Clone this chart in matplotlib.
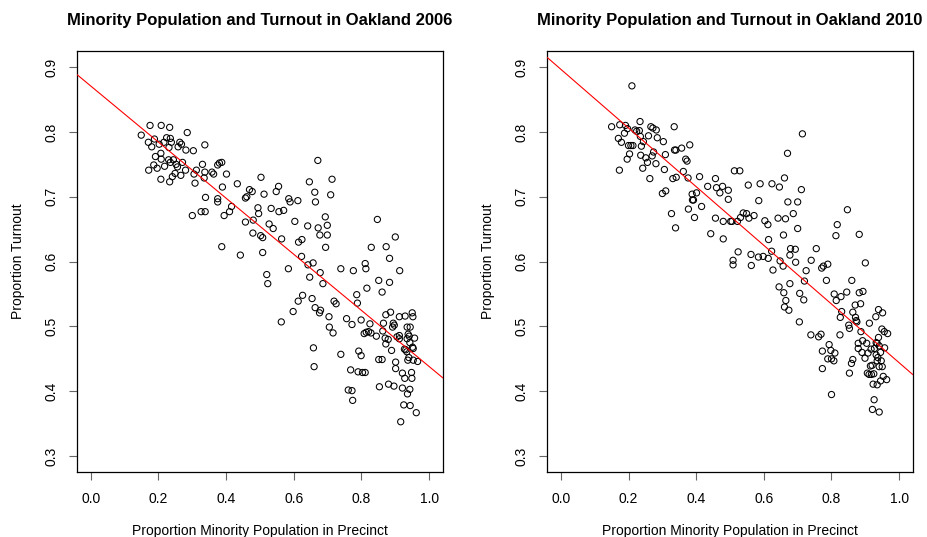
import numpy as np
import matplotlib
matplotlib.use("Agg")
import matplotlib.pyplot as plt

plt.rcParams['font.family'] = ['Liberation Sans', 'DejaVu Sans']

# Precinct-level data: share of minority population vs. turnout
minority_2006 = [
    0.149, 0.175, 0.208, 0.233, 0.285, 0.170, 0.180, 0.188, 0.202, 0.216,
    0.224, 0.235, 0.231, 0.238, 0.263, 0.268, 0.258, 0.281, 0.303, 0.337,
    0.191, 0.207, 0.186, 0.171, 0.196, 0.208, 0.218, 0.207, 0.230, 0.235,
    0.244, 0.252, 0.256, 0.271, 0.233, 0.241, 0.249, 0.266, 0.280, 0.305,
    0.312, 0.330, 0.335, 0.337, 0.308, 0.358, 0.363, 0.375, 0.380, 0.387,
    0.401, 0.339, 0.300, 0.326, 0.338, 0.375, 0.375, 0.389, 0.394, 0.410,
    0.416, 0.433, 0.387, 0.442, 0.457, 0.461, 0.469, 0.477, 0.457, 0.480,
    0.494, 0.496, 0.479, 0.502, 0.508, 0.503, 0.512, 0.508, 0.520, 0.523,
    0.527, 0.533, 0.539, 0.548, 0.555, 0.556, 0.570, 0.564, 0.585, 0.589,
    0.612, 0.603, 0.584, 0.563, 0.598, 0.613, 0.626, 0.614, 0.624, 0.623,
    0.641, 0.646, 0.662, 0.664, 0.671, 0.642, 0.657, 0.647, 0.654, 0.663,
    0.676, 0.679, 0.672, 0.677, 0.693, 0.699, 0.699, 0.694, 0.678, 0.686,
    0.709, 0.713, 0.658, 0.660, 0.704, 0.705, 0.716, 0.719, 0.725, 0.739,
    0.739, 0.756, 0.772, 0.776, 0.786, 0.788, 0.768, 0.761, 0.772, 0.774,
    0.790, 0.803, 0.811, 0.792, 0.799, 0.799, 0.811, 0.813, 0.816, 0.808,
    0.814, 0.821, 0.825, 0.828, 0.829, 0.844, 0.847, 0.851, 0.853, 0.851,
    0.861, 0.861, 0.863, 0.865, 0.872, 0.873, 0.883, 0.883, 0.886, 0.870,
    0.879, 0.872, 0.889, 0.880, 0.896, 0.892, 0.894, 0.897, 0.900, 0.901,
    0.901, 0.905, 0.912, 0.913, 0.912, 0.916, 0.921, 0.921, 0.925, 0.928,
    0.929, 0.931, 0.934, 0.936, 0.935, 0.937, 0.935, 0.941, 0.943, 0.943,
    0.944, 0.944, 0.948, 0.949, 0.950, 0.952, 0.951, 0.953, 0.957, 0.962,
    0.966, 0.927, 0.953, 0.912, 0.940, 0.938,
]
turnout_2006 = [
    0.795, 0.810, 0.810, 0.807, 0.799, 0.784, 0.777, 0.789, 0.781, 0.784,
    0.791, 0.790, 0.776, 0.784, 0.784, 0.781, 0.777, 0.772, 0.771, 0.780,
    0.762, 0.767, 0.749, 0.741, 0.744, 0.758, 0.747, 0.727, 0.757, 0.753,
    0.757, 0.750, 0.746, 0.753, 0.723, 0.731, 0.736, 0.733, 0.741, 0.735,
    0.741, 0.750, 0.729, 0.738, 0.721, 0.738, 0.735, 0.749, 0.752, 0.753,
    0.735, 0.699, 0.671, 0.677, 0.677, 0.697, 0.692, 0.715, 0.671, 0.677,
    0.685, 0.720, 0.623, 0.610, 0.698, 0.700, 0.711, 0.708, 0.661, 0.664,
    0.683, 0.674, 0.644, 0.640, 0.637, 0.730, 0.704, 0.614, 0.580, 0.566,
    0.658, 0.682, 0.651, 0.708, 0.716, 0.677, 0.679, 0.635, 0.697, 0.692,
    0.694, 0.662, 0.589, 0.507, 0.523, 0.539, 0.548, 0.630, 0.634, 0.608,
    0.655, 0.723, 0.707, 0.692, 0.756, 0.595, 0.598, 0.576, 0.543, 0.529,
    0.521, 0.525, 0.652, 0.641, 0.669, 0.656, 0.641, 0.622, 0.583, 0.566,
    0.703, 0.727, 0.467, 0.438, 0.515, 0.499, 0.490, 0.539, 0.535, 0.589,
    0.457, 0.512, 0.503, 0.586, 0.549, 0.536, 0.433, 0.402, 0.401, 0.386,
    0.430, 0.429, 0.429, 0.462, 0.455, 0.510, 0.597, 0.589, 0.559, 0.489,
    0.491, 0.492, 0.504, 0.490, 0.622, 0.485, 0.665, 0.571, 0.407, 0.449,
    0.449, 0.553, 0.493, 0.505, 0.518, 0.623, 0.605, 0.568, 0.522, 0.482,
    0.480, 0.473, 0.463, 0.411, 0.408, 0.499, 0.505, 0.502, 0.638, 0.445,
    0.435, 0.484, 0.481, 0.586, 0.515, 0.353, 0.428, 0.405, 0.379, 0.420,
    0.516, 0.464, 0.461, 0.396, 0.481, 0.448, 0.499, 0.485, 0.475, 0.403,
    0.378, 0.499, 0.429, 0.420, 0.521, 0.515, 0.468, 0.448, 0.482, 0.367,
    0.446, 0.465, 0.466, 0.486, 0.452, 0.488,
]

minority_2010 = [
    0.150, 0.174, 0.170, 0.179, 0.188, 0.191, 0.197, 0.210, 0.200, 0.207,
    0.213, 0.219, 0.224, 0.232, 0.234, 0.235, 0.238, 0.244, 0.266, 0.272,
    0.282, 0.259, 0.285, 0.303, 0.335, 0.196, 0.203, 0.173, 0.236, 0.242,
    0.251, 0.256, 0.263, 0.270, 0.274, 0.281, 0.309, 0.306, 0.336, 0.340,
    0.357, 0.381, 0.369, 0.373, 0.362, 0.331, 0.341, 0.376, 0.300, 0.310,
    0.327, 0.339, 0.377, 0.388, 0.389, 0.392, 0.401, 0.395, 0.410, 0.416,
    0.434, 0.457, 0.460, 0.470, 0.478, 0.495, 0.495, 0.457, 0.443, 0.480,
    0.480, 0.502, 0.506, 0.513, 0.529, 0.522, 0.531, 0.539, 0.549, 0.556,
    0.571, 0.554, 0.589, 0.585, 0.524, 0.509, 0.509, 0.562, 0.563, 0.584,
    0.598, 0.613, 0.603, 0.612, 0.614, 0.624, 0.646, 0.661, 0.623, 0.627,
    0.642, 0.648, 0.657, 0.658, 0.664, 0.670, 0.671, 0.687, 0.645, 0.659,
    0.665, 0.661, 0.674, 0.677, 0.677, 0.679, 0.693, 0.694, 0.700, 0.700,
    0.711, 0.714, 0.706, 0.718, 0.720, 0.705, 0.725, 0.740, 0.755, 0.739,
    0.762, 0.769, 0.773, 0.773, 0.771, 0.776, 0.789, 0.785, 0.789, 0.793,
    0.798, 0.800, 0.807, 0.810, 0.800, 0.813, 0.817, 0.808, 0.814, 0.828,
    0.830, 0.826, 0.825, 0.845, 0.847, 0.860, 0.853, 0.851, 0.853, 0.863,
    0.859, 0.863, 0.870, 0.871, 0.873, 0.875, 0.882, 0.882, 0.893, 0.886,
    0.887, 0.879, 0.879, 0.892, 0.890, 0.899, 0.900, 0.904, 0.912, 0.906,
    0.911, 0.918, 0.908, 0.915, 0.920, 0.917, 0.927, 0.923, 0.921, 0.926,
    0.931, 0.932, 0.932, 0.935, 0.937, 0.939, 0.939, 0.941, 0.935, 0.941,
    0.945, 0.945, 0.947, 0.949, 0.951, 0.950, 0.953, 0.956, 0.957, 0.966,
    0.963, 0.941, 0.925, 0.935,
]
turnout_2010 = [
    0.808, 0.811, 0.790, 0.784, 0.798, 0.810, 0.805, 0.871, 0.779, 0.779,
    0.779, 0.803, 0.801, 0.802, 0.816, 0.793, 0.778, 0.785, 0.808, 0.806,
    0.803, 0.794, 0.791, 0.785, 0.808, 0.758, 0.766, 0.741, 0.764, 0.744,
    0.760, 0.753, 0.728, 0.763, 0.769, 0.751, 0.765, 0.742, 0.772, 0.772,
    0.775, 0.780, 0.758, 0.755, 0.739, 0.728, 0.730, 0.729, 0.705, 0.709,
    0.674, 0.652, 0.681, 0.704, 0.695, 0.695, 0.706, 0.668, 0.731, 0.685,
    0.716, 0.728, 0.714, 0.706, 0.716, 0.710, 0.696, 0.667, 0.643, 0.662,
    0.635, 0.662, 0.662, 0.740, 0.740, 0.662, 0.668, 0.675, 0.674, 0.667,
    0.671, 0.718, 0.720, 0.694, 0.615, 0.602, 0.595, 0.611, 0.594, 0.607,
    0.608, 0.605, 0.663, 0.657, 0.634, 0.720, 0.715, 0.729, 0.616, 0.587,
    0.667, 0.601, 0.593, 0.641, 0.666, 0.767, 0.692, 0.674, 0.561, 0.552,
    0.540, 0.530, 0.525, 0.566, 0.610, 0.620, 0.619, 0.599, 0.692, 0.651,
    0.711, 0.797, 0.551, 0.541, 0.570, 0.507, 0.586, 0.602, 0.620, 0.487,
    0.484, 0.488, 0.462, 0.435, 0.590, 0.593, 0.596, 0.571, 0.450, 0.472,
    0.463, 0.450, 0.447, 0.459, 0.395, 0.640, 0.657, 0.550, 0.540, 0.546,
    0.523, 0.514, 0.487, 0.553, 0.680, 0.571, 0.497, 0.502, 0.428, 0.449,
    0.443, 0.522, 0.533, 0.514, 0.509, 0.507, 0.642, 0.552, 0.554, 0.535,
    0.492, 0.474, 0.466, 0.478, 0.460, 0.451, 0.598, 0.474, 0.505, 0.428,
    0.426, 0.426, 0.459, 0.439, 0.440, 0.465, 0.466, 0.411, 0.372, 0.387,
    0.515, 0.475, 0.456, 0.410, 0.452, 0.526, 0.483, 0.368, 0.447, 0.438,
    0.416, 0.460, 0.447, 0.496, 0.521, 0.438, 0.423, 0.492, 0.467, 0.489,
    0.418, 0.470, 0.427, 0.474,
]

x_ticks = [0.0, 0.2, 0.4, 0.6, 0.8, 1.0]
y_ticks = [0.3, 0.4, 0.5, 0.6, 0.7, 0.8, 0.9]
panels = [
    ("Minority Population and Turnout in Oakland 2006", minority_2006, turnout_2006),
    ("Minority Population and Turnout in Oakland 2010", minority_2010, turnout_2010),
]

fig = plt.figure(figsize=(9.28, 5.37), dpi=100)
lefts = [0.0833, 0.5898]
for left, (title, xs, ys) in zip(lefts, panels):
    ax = fig.add_axes([left, 0.1216, 0.3937, 0.7825])
    xs = np.asarray(xs)
    ys = np.asarray(ys)
    ax.scatter(xs, ys, s=20, facecolors='none', edgecolors='black',
               linewidths=0.75, zorder=3)
    # least-squares fit line across the full plotting region
    slope, intercept = np.polyfit(xs, ys, 1)
    xl = np.array([-0.04, 1.04])
    ax.plot(xl, intercept + slope * xl, color='red', linewidth=0.8, zorder=4)
    ax.set_xlim(-0.04, 1.04)
    ax.set_ylim(0.276, 0.924)
    ax.set_xticks(x_ticks)
    ax.set_xticklabels([f"{v:.1f}" for v in x_ticks])
    ax.set_yticks(y_ticks)
    ax.set_yticklabels([f"{v:.1f}" for v in y_ticks], rotation=90, va='center')
    ax.tick_params(axis='both', direction='out', length=5.8, width=0.8,
                   labelsize=10, colors='#666666', labelcolor='black')
    ax.tick_params(axis='x', pad=8.5)
    ax.tick_params(axis='y', pad=7.5)
    for sp in ax.spines.values():
        sp.set_linewidth(0.9)
        sp.set_color('black')
    ax.set_xlabel("Proportion Minority Population in Precinct", fontsize=10,
                  labelpad=13)
    ax.set_ylabel("Proportion Turnout", fontsize=10, labelpad=14)
    ax.set_title(title, fontsize=12, fontweight='bold', pad=19)

fig.savefig("out.png", dpi=100)
